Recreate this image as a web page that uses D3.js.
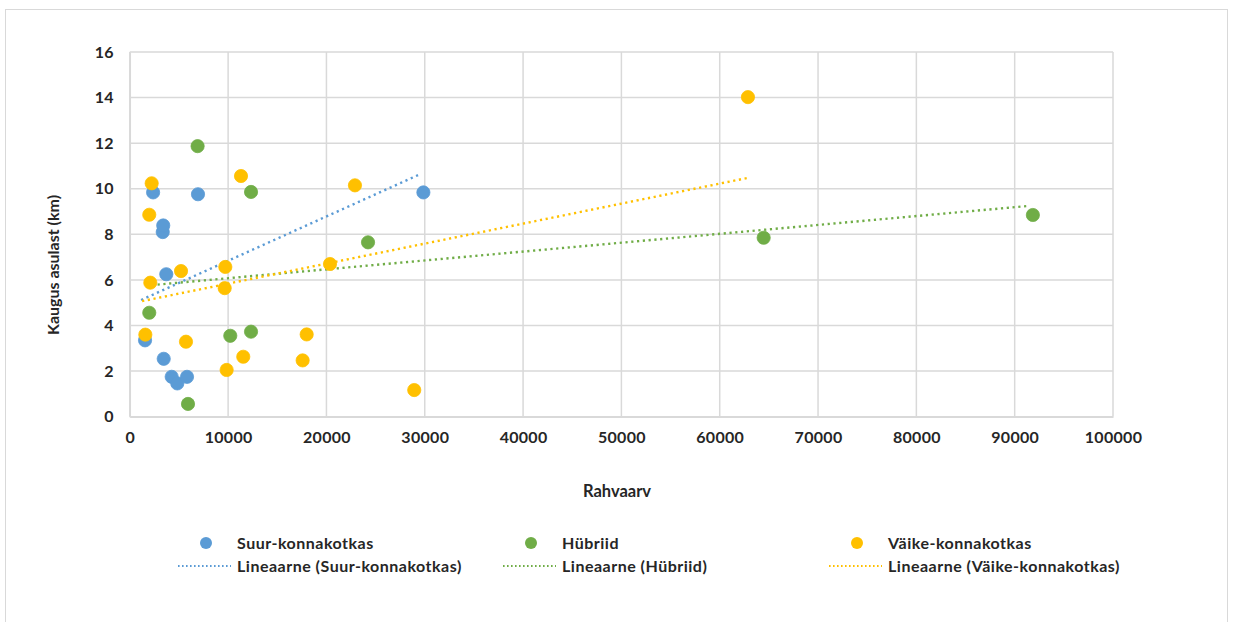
<!DOCTYPE html>
<html>
<head>
<meta charset="utf-8">
<script src="https://cdn.jsdelivr.net/npm/d3@7"></script>
<style>
  html, body { margin: 0; padding: 0; background: #fff; }
  svg { display: block; font-family: Lato, "Open Sans", sans-serif; }
</style>
</head>
<body>
<svg id="chart" width="1233" height="622"></svg>
<script>
// Population (Rahvaarv) vs. distance from settlement (km), per eagle group
const suurX = [1550, 2370, 3350, 3400, 3450, 3710, 4260, 4830, 5820, 6935, 29860];
const suurY = [3.35, 9.84, 8.10, 8.39, 2.54, 6.25, 1.75, 1.46, 1.75, 9.76, 9.84];

const hybX = [1980, 5920, 6895, 10220, 12330, 12330, 24230, 64470, 91850];
const hybY = [4.56, 0.56, 11.87, 3.55, 3.73, 9.86, 7.65, 7.85, 8.85];

const vaikeX = [1580, 1980, 2085, 2225, 5210, 5715, 9650, 9715, 9850, 11310, 11540, 17580, 17990, 20360, 22900, 28930, 62870];
const vaikeY = [3.60, 8.86, 5.88, 10.24, 6.39, 3.29, 5.64, 6.57, 2.05, 10.56, 2.63, 2.47, 3.61, 6.70, 10.15, 1.17, 14.02];

// Linear trendline end points [x, y]
const suurTrend = [[1150, 5.12], [29530, 10.64]];
const hybTrend = [[1650, 5.75], [91480, 9.25]];
const vaikeTrend = [[1250, 5.07], [62900, 10.48]];

const xTicks = [0, 10000, 20000, 30000, 40000, 50000, 60000, 70000, 80000, 90000, 100000];
const yTicks = [0, 2, 4, 6, 8, 10, 12, 14, 16];

const seriesNames = ["Suur-konnakotkas", "Hübriid", "Väike-konnakotkas"];
const trendNames = ["Lineaarne (Suur-konnakotkas)", "Lineaarne (Hübriid)", "Lineaarne (Väike-konnakotkas)"];
const colors = ["#5B9BD5", "#70AD47", "#FFC000"];

const svg = d3.select("#chart");

// outer chart frame
svg.append("rect")
  .attr("x", 5.5).attr("y", 9.5)
  .attr("width", 1222).attr("height", 640)
  .attr("fill", "none").attr("stroke", "#d9d9d9").attr("stroke-width", 1);

const plot = { left: 129.8, right: 1113, top: 52, bottom: 416.7 };
const x = d3.scaleLinear().domain([0, 100000]).range([plot.left, plot.right]);
const y = d3.scaleLinear().domain([0, 16]).range([plot.bottom, plot.top]);

// gridlines
const grid = svg.append("g");
grid.selectAll("line.h").data(yTicks).join("line")
  .attr("x1", plot.left).attr("x2", plot.right)
  .attr("y1", d => y(d)).attr("y2", d => y(d))
  .attr("stroke", "#d9d9d9").attr("stroke-width", 1.5);
grid.selectAll("line.v").data(xTicks).join("line")
  .attr("x1", d => x(d)).attr("x2", d => x(d))
  .attr("y1", plot.top).attr("y2", plot.bottom)
  .attr("stroke", "#d9d9d9").attr("stroke-width", 1.5);

// axes
const xAxis = svg.append("g")
  .attr("transform", `translate(0,${plot.bottom})`)
  .call(d3.axisBottom(x).tickValues(xTicks).tickFormat(d3.format("d")).tickSize(0).tickPadding(15));
const yAxis = svg.append("g")
  .attr("transform", `translate(${plot.left},0)`)
  .call(d3.axisLeft(y).tickValues(yTicks).tickSize(0).tickPadding(16));
[xAxis, yAxis].forEach(g => {
  g.select(".domain").attr("stroke", "#d9d9d9").attr("stroke-width", 1.5);
  g.selectAll("text")
    .attr("fill", "#262626")
    .style("font-family", "Lato, sans-serif")
    .style("font-weight", "bold")
    .style("font-size", "16px")
    .style("letter-spacing", "0.3px");
});

// axis titles
svg.append("text")
  .attr("x", 617).attr("y", 497)
  .attr("text-anchor", "middle")
  .attr("fill", "#262626").style("font-weight", "bold").style("font-size", "16.5px")
  .text("Rahvaarv");
svg.append("text")
  .attr("transform", "translate(59,265) rotate(-90)")
  .attr("text-anchor", "middle")
  .attr("fill", "#262626").style("font-weight", "bold").style("font-size", "16px")
  .text("Kaugus asulast (km)");

// trendlines
const trends = [suurTrend, hybTrend, vaikeTrend];
const line = d3.line().x(d => x(d[0])).y(d => y(d[1]));
svg.append("g").selectAll("path").data(trends).join("path")
  .attr("d", d => line(d))
  .attr("fill", "none")
  .attr("stroke", (d, i) => colors[i])
  .attr("stroke-width", 2.4)
  .attr("stroke-dasharray", "2.2,3.6");

// points
const series = [
  suurX.map((v, i) => [v, suurY[i]]),
  hybX.map((v, i) => [v, hybY[i]]),
  vaikeX.map((v, i) => [v, vaikeY[i]])
];
series.forEach((pts, si) => {
  svg.append("g").selectAll("circle").data(pts).join("circle")
    .attr("cx", d => x(d[0])).attr("cy", d => y(d[1]))
    .attr("r", 6.6)
    .attr("fill", colors[si])
    .attr("stroke", colors[si]).attr("stroke-width", 0.8);
});

// legend
const legX = [206, 531, 857];
const legend = svg.append("g");
seriesNames.forEach((name, i) => {
  legend.append("circle")
    .attr("cx", legX[i]).attr("cy", 543).attr("r", 6)
    .attr("fill", colors[i]);
  legend.append("text")
    .attr("x", legX[i] + 31).attr("y", 549)
    .attr("fill", "#262626").style("font-weight", "bold").style("font-size", "16px")
    .style("letter-spacing", "0.5px")
    .text(name);
  legend.append("line")
    .attr("x1", legX[i] - 28).attr("x2", legX[i] + 25)
    .attr("y1", 566).attr("y2", 566)
    .attr("stroke", colors[i]).attr("stroke-width", 2)
    .attr("stroke-dasharray", "1.6,2.4");
  legend.append("text")
    .attr("x", legX[i] + 31).attr("y", 572)
    .attr("fill", "#262626").style("font-weight", "bold").style("font-size", "16px")
    .style("letter-spacing", "0.5px")
    .text(trendNames[i]);
});
</script>
</body>
</html>
